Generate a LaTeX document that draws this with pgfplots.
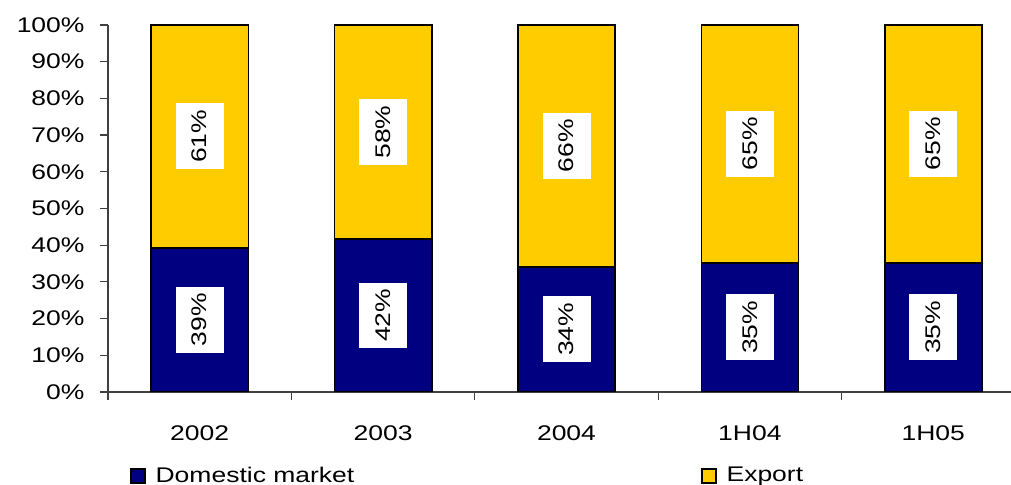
\documentclass[border=0pt]{standalone}
\usepackage{pgfplots}
\pgfplotsset{compat=1.18}
\usepackage{pgfplotstable}
\usepackage{fontspec}
\setmainfont{Liberation Sans}[FakeStretch=1.25]
\definecolor{navyb}{HTML}{000080}
\definecolor{goldb}{HTML}{FFCC00}
\pgfplotstableread{
x y mid lab
0 39.3 19.65 39
1 41.7 20.85 42
2 34.1 17.05 34
3 35.2 17.6 35
4 35.2 17.6 35
}\domtab
\pgfplotstableread{
x y mid lab
0 60.7 69.65 61
1 58.3 70.85 58
2 65.9 67.05 66
3 64.8 67.6 65
4 64.8 67.6 65
}\exptab
\begin{document}
\fontsize{10.6}{12.7}\selectfont
\begin{tikzpicture}
\path[use as bounding box] (-54pt,-46.5pt) rectangle (451.5pt,196pt);
\begin{axis}[
  at={(0,0)}, anchor=south west,
  scale only axis, width=458.5pt, height=183.5pt,
  ybar stacked, bar width=0.53,
  xmin=-0.5, xmax=4.5, ymin=0, ymax=100,
  axis x line*=bottom, axis y line*=left,
  axis line style={black!75, line width=0.6pt, -},
  tick align=outside, major tick length=4pt,
  tick style={black!75, line width=0.6pt},
  ytick={0,10,...,100},
  yticklabel={\pgfmathprintnumber{\tick}\%},
  /pgf/number format/assume math mode=true,
  xtick={0,1,2,3,4}, xticklabels={2002,2003,2004,1H04,1H05},
  major x tick style={draw=none},
  extra x ticks={-0.5,0.5,1.5,2.5,3.5,4.5}, extra x tick labels={},
  extra x tick style={major x tick style={draw=black!75}},
  xticklabel style={yshift=-9pt},
  yticklabel style={xshift=-4pt},
  legend columns=2,
  legend style={draw=none, fill=none, at={(0,0)}, anchor=west, xshift=11pt, yshift=-42pt, inner sep=0pt,
    /tikz/every odd column/.append style={column sep=3pt},
    /tikz/every even column/.append style={column sep=171.5pt}},
]
\addplot[fill=navyb, draw=black, line width=0.8pt,
  legend image code/.code={\draw[fill=navyb, draw=black, line width=0.6pt] (0pt,-3.5pt) rectangle (7pt,3.5pt);}]
  table[x=x, y=y] {\domtab};
\addlegendentry{Domestic market}
\addplot[fill=goldb, draw=black, line width=0.8pt,
  legend image code/.code={\draw[fill=goldb, draw=black, line width=0.6pt] (0pt,-3.5pt) rectangle (7pt,3.5pt);}]
  table[x=x, y=y] {\exptab};
\addlegendentry{Export}
\end{axis}
\begin{axis}[
  at={(0,0)}, anchor=south west,
  scale only axis, width=458.5pt, height=183.5pt,
  xmin=-0.5, xmax=4.5, ymin=0, ymax=100,
  hide axis,
  point meta=explicit symbolic,
  nodes near coords={\pgfplotspointmeta\%},
  every node near coord/.append style={rotate=90, anchor=center, fill=white, text=black, inner xsep=3.2pt, inner ysep=0pt, minimum height=24pt},
]
\addplot[draw=none, mark=none] table[x=x, y=mid, meta=lab] {\domtab};
\addplot[draw=none, mark=none] table[x=x, y=mid, meta=lab] {\exptab};
\end{axis}
\end{tikzpicture}
\end{document}
